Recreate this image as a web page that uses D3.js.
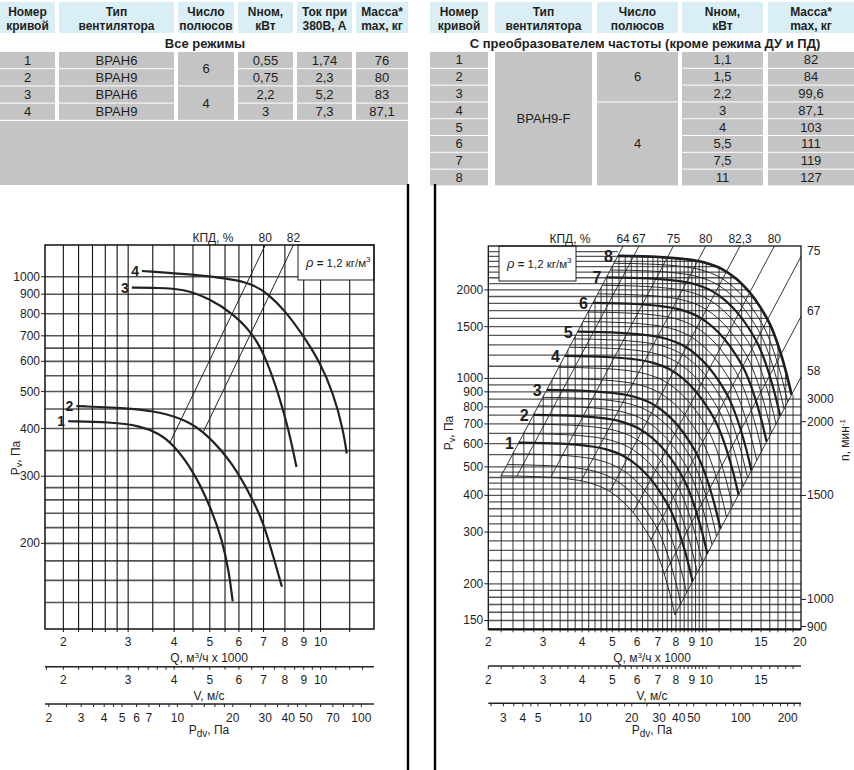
<!DOCTYPE html>
<html>
<head>
<meta charset="utf-8">
<script src="https://cdn.jsdelivr.net/npm/d3@7"></script>
<style>
  body { margin: 0; background: #fff; }
  svg { display: block; }
  text { font-family: "Liberation Sans", Arial, sans-serif; fill: #1e1e1e; }
  .th { font-family: "Liberation Sans Narrow", "Arial Narrow", "Liberation Sans", Arial, sans-serif; font-weight: bold; font-size: 12px; }
  .td { font-size: 13px; }
  .ttl { font-weight: bold; font-size: 13px; }
  .tick { font-size: 12px; }
  .lbl { font-size: 12px; }
</style>
</head>
<body>
<svg id="chart" width="854" height="770"></svg>
<script>
// ---------- table data ----------
const leftHead    = [["Номер", "кривой"], ["Тип", "вентилятора"], ["Число", "полюсов"], ["Nном,", "кВт"], ["Ток при", "380В, А"], ["Масса*", "max, кг"]];
const leftTitle   = "Все режимы";
const leftNo      = ["1", "2", "3", "4"];
const leftFan     = ["ВРАН6", "ВРАН9", "ВРАН6", "ВРАН9"];
const leftPoles   = [{ v: "6", from: 0, to: 1 }, { v: "4", from: 2, to: 3 }];
const leftPower   = ["0,55", "0,75", "2,2", "3"];
const leftCurrent = ["1,74", "2,3", "5,2", "7,3"];
const leftMass    = ["76", "80", "83", "87,1"];

const rightHead  = [["Номер", "кривой"], ["Тип", "вентилятора"], ["Число", "полюсов"], ["Nном,", "кВт"], ["Масса*", "max, кг"]];
const rightTitle = "С преобразователем частоты (кроме режима ДУ и ПД)";
const rightNo    = ["1", "2", "3", "4", "5", "6", "7", "8"];
const rightFan   = [{ v: "ВРАН9-F", from: 0, to: 7 }];
const rightPoles = [{ v: "6", from: 0, to: 2 }, { v: "4", from: 3, to: 7 }];
const rightPower = ["1,1", "1,5", "2,2", "3", "4", "5,5", "7,5", "11"];
const rightMass  = ["82", "84", "99,6", "87,1", "103", "111", "119", "127"];

// ---------- left chart data (Q in 1000 m3/h, P in Pa) ----------
const curve1Q = [2.06, 2.68, 3.23, 3.64, 3.97, 4.51, 5.0, 5.41, 5.64, 5.77];
const curve1P = [418, 416, 407, 388, 364, 310, 252, 204, 168, 141];
const curve2Q = [2.17, 3.1, 3.64, 4.34, 4.89, 5.79, 6.56, 7.0, 7.45, 7.85];
const curve2P = [458, 452, 442, 420, 388, 324, 259, 226, 184, 154];
const curve3Q = [3.07, 3.6, 4.24, 5.0, 5.78, 6.6, 7.14, 7.68, 8.2, 8.6];
const curve3P = [936, 935, 930, 875, 801, 703, 604, 494, 396, 317];
const curve4Q = [3.27, 4.7, 6.43, 7.2, 8.0, 8.89, 9.98, 10.83, 11.53, 11.78];
const curve4P = [1035, 1010, 972, 901, 815, 710, 596, 495, 396, 344];
const leftCurves = [[curve1Q, curve1P], [curve2Q, curve2P], [curve3Q, curve3P], [curve4Q, curve4P]];
const leftCurveNames = ["1", "2", "3", "4"];

const leftEffLabel = ["80", "82"];
const leftEffC     = [24.2, 17.0];   // P / Q^2 of the efficiency lines
const leftEffFrom  = [0, 1];         // curve where the line starts

const leftYTicks   = [200, 300, 400, 500, 600, 700, 800, 900, 1000];
const leftHGrid    = [140, 160, 180, 200, 220, 240, 260, 280, 300, 350, 400, 450, 500, 550, 600, 650, 700, 800, 900, 1000];
const leftVGrid    = [2, 2.2, 2.4, 2.6, 2.8, 3, 3.5, 4, 4.5, 5, 5.5, 6, 6.5, 7, 8, 9, 10, 12];
const leftQTicks   = [2, 3, 4, 5, 6, 7, 8, 9, 10];
const leftVTicks   = [2, 3, 4, 5, 6, 7, 8, 9, 10];
const leftPdvTicks = [2, 3, 4, 5, 6, 7, 10, 20, 30, 40, 50, 70, 100];
const leftVMinor   = [1.8, 2, 2.2, 2.4, 2.6, 2.8, 3, 3.2, 3.4, 3.6, 3.8, 4, 4.5, 5, 5.5, 6, 6.5, 7, 7.5, 8, 8.5, 9, 9.5, 10, 11, 12, 13];
const leftPdvMinor = [2, 2.5, 3, 3.5, 4, 4.5, 5, 6, 7, 8, 9, 10, 12, 14, 16, 18, 20, 25, 30, 35, 40, 45, 50, 60, 70, 80, 90, 100];

// ---------- right chart data ----------
// lowest speed characteristic; all other curves follow it by the fan laws
const baseQ = [2.2, 3.0, 3.6, 4.2, 4.8, 5.3, 5.8, 6.3, 6.8, 7.3, 7.65, 7.94];
const baseP = [466, 462, 455, 442, 418, 388, 352, 312, 270, 220, 185, 157];
const boldSpeed = [1.139, 1.27, 1.40, 1.60, 1.759, 1.969, 2.177, 2.367];
const thinSpeed = [1.0, 1.045, 1.09, 1.18, 1.225, 1.315, 1.36, 1.465, 1.53, 1.655, 1.71, 1.83, 1.9, 2.04, 2.11, 2.24, 2.3];
const rightCurveNames = ["1", "2", "3", "4", "5", "6", "7", "8"];

const rightEffLabel = ["64", "67", "75", "80", "82,3", "80", "75", "67", "58"];
const rightEffC     = [96.3, 76.1, 45.8, 28.4, 17.1, 10.3, 6.4, 4.0, 2.49];

const rightYTicks   = [150, 200, 300, 400, 500, 600, 700, 800, 900, 1000, 1500, 2000];
const rightQTicks   = [2, 3, 4, 5, 6, 7, 8, 9, 10, 15, 20];
const rightVTicks   = [2, 3, 4, 5, 6, 7, 8, 9, 10, 15];
const rightPdvTicks = [3, 4, 5, 10, 20, 30, 40, 50, 100, 200];
const rightPdvMinor = [2.5, 3, 3.5, 4, 4.5, 5, 6, 7, 8, 9, 10, 12, 14, 16, 18, 20, 25, 30, 35, 40, 45, 50, 60, 70, 80, 90, 100, 120, 140, 160, 180, 200, 220, 240];
const rpmTicks      = [3000, 2000, 1500, 1000, 900];

const pdvFactor = 0.6; // rho / 2

const svg = d3.select("#chart");
const defs = svg.append("defs");
const headFill = "#d9eef5", cellFill = "#c4c4c4";

// ---------- tables ----------
function drawTable(cols, head, columns, rowTop, rowH, title, titleX) {
  const g = svg.append("g");
  cols.forEach((c, i) => {
    g.append("rect").attr("x", c[0]).attr("y", 2).attr("width", c[1] - c[0]).attr("height", 31).attr("fill", headFill);
    const t = g.append("text").attr("class", "th").attr("text-anchor", "middle");
    head[i].forEach((s, j) => t.append("tspan").attr("x", (c[0] + c[1]) / 2).attr("y", 15.5 + j * 14).text(s));
    columns[i].forEach((d, r) => {
      const m = typeof d === "object" ? d : { v: d, from: r, to: r };
      const y0 = rowTop(m.from), y1 = rowTop(m.to) + rowH;
      g.append("rect").attr("x", c[0]).attr("y", y0).attr("width", c[1] - c[0]).attr("height", y1 - y0).attr("fill", cellFill);
      g.append("text").attr("class", "td").attr("text-anchor", "middle")
        .attr("x", (c[0] + c[1]) / 2).attr("y", (y0 + y1) / 2 + 4.5).text(m.v);
    });
  });
  g.append("text").attr("class", "ttl").attr("text-anchor", "middle").attr("x", titleX).attr("y", 47.5).text(title);
  return g;
}

const lt = drawTable(
  [[0, 55], [59, 174], [178, 234], [238, 293], [297, 352], [356, 408]],
  leftHead, [leftNo, leftFan, leftPoles, leftPower, leftCurrent, leftMass],
  r => 52 + r * 17.2, 16.2, leftTitle, 205);
lt.append("rect").attr("x", 0).attr("y", 121).attr("width", 408).attr("height", 64).attr("fill", cellFill);

drawTable(
  [[430, 488], [495, 592], [597, 678], [682, 763], [768, 854]],
  rightHead, [rightNo, rightFan, rightPoles, rightPower, rightMass],
  r => 52 + r * 16.8, 15.8, rightTitle, 645);

// separators
[408, 435].forEach(x => svg.append("line").attr("x1", x).attr("x2", x).attr("y1", 184).attr("y2", 770)
  .attr("stroke", "#000").attr("stroke-width", 2.4));

// ---------- helpers ----------
function interpLL(Qs, Ps, q) {
  const lq = Math.log(q);
  for (let i = 0; i < Qs.length - 1; i++) {
    const a = Math.log(Qs[i]), b = Math.log(Qs[i + 1]);
    if (lq >= a && lq <= b) {
      const t = (lq - a) / (b - a);
      return Math.exp(Math.log(Ps[i]) + (Math.log(Ps[i + 1]) - Math.log(Ps[i])) * t);
    }
  }
  return NaN;
}
function crossQ(Qs, Ps, c) {
  let lo = Qs[0], hi = Qs[Qs.length - 1];
  const f = q => Math.log(interpLL(Qs, Ps, q)) - Math.log(c * q * q);
  if (f(lo) <= 0) return lo;
  for (let i = 0; i < 60; i++) { const m = Math.sqrt(lo * hi); if (f(m) > 0) lo = m; else hi = m; }
  return lo;
}
function hline(g, x0, x1, y, stroke, w) {
  g.append("line").attr("x1", x0).attr("x2", x1).attr("y1", y).attr("y2", y).attr("stroke", stroke).attr("stroke-width", w);
}
function vline(g, x, y0, y1, stroke, w) {
  g.append("line").attr("x1", x).attr("x2", x).attr("y1", y0).attr("y2", y1).attr("stroke", stroke).attr("stroke-width", w);
}
function legendBox(g, x, y, w, h) {
  g.append("rect").attr("x", x).attr("y", y).attr("width", w).attr("height", h).attr("fill", "#fff").attr("stroke", "#222").attr("stroke-width", 1);
  const t = g.append("text").attr("x", x + 8).attr("y", y + 22).attr("font-size", 11.5);
  t.append("tspan").attr("font-style", "italic").attr("font-size", 13).text("ρ");
  t.append("tspan").attr("font-weight", "bold").text(" = ");
  t.append("tspan").text("1,2 кг/м");
  t.append("tspan").attr("font-size", 8).attr("dy", -5).text("3");
}
function bottomAxes(g, xQ, x0, x1, o) {
  // Q tick labels
  o.qTicks.forEach(v => g.append("text").attr("class", "tick").attr("text-anchor", "middle").attr("x", xQ(v)).attr("y", 646).text(v));
  const qt = g.append("text").attr("class", "lbl").attr("text-anchor", "middle").attr("x", o.cx).attr("y", 662);
  qt.append("tspan").text("Q, м");
  qt.append("tspan").attr("font-size", 8).attr("dy", -4).text("3");
  qt.append("tspan").attr("dy", 4).text("/ч x 1000");
  // V axis
  hline(g, x0, x1, o.vY, "#222", 1.6);
  o.vMinor.forEach(v => vline(g, xQ(v), o.vY, o.vY + 3, "#222", 1));
  o.vTicks.forEach(v => g.append("text").attr("class", "tick").attr("text-anchor", "middle").attr("x", xQ(v)).attr("y", 684).text(v));
  g.append("text").attr("class", "lbl").attr("text-anchor", "middle").attr("x", o.cx).attr("y", 699.5).text("V, м/с");
  // Pdv axis
  const xP = p => xQ(Math.sqrt(p / pdvFactor));
  hline(g, x0, x1, o.pY, "#222", 1.6);
  o.pMinor.forEach(v => vline(g, xP(v), o.pY, o.pY + 3, "#222", 1));
  o.pTicks.forEach(v => g.append("text").attr("class", "tick").attr("text-anchor", "middle").attr("x", xP(v)).attr("y", 721.5).text(v));
  const pt = g.append("text").attr("class", "lbl").attr("text-anchor", "middle").attr("x", o.cx).attr("y", 734);
  pt.append("tspan").text("P");
  pt.append("tspan").attr("font-size", 10).attr("dy", 3).text("dv");
  pt.append("tspan").attr("dy", -3).text(", Па");
}
function pvLabel(g, x, y) {
  const t = g.append("text").attr("class", "lbl").attr("text-anchor", "middle").attr("transform", `translate(${x},${y}) rotate(-90)`);
  t.append("tspan").text("P");
  t.append("tspan").attr("font-size", 9).attr("dy", 2).text("v");
  t.append("tspan").attr("dy", -2).text(", Па");
}

// ---------- left chart ----------
{
  const x0 = 45, x1 = 374, y0 = 245, y1 = 629;
  const x = d3.scaleLog().domain([1.783, 13.97]).range([x0, x1]);
  const y = d3.scaleLog().domain([119.3, 1211]).range([y1, y0]);
  const g = svg.append("g");
  const line = d3.line().x(d => x(d[0])).y(d => y(d[1])).curve(d3.curveBasis);

  leftHGrid.forEach(v => hline(g, x0, x1, y(v), "#555", 1.6));
  leftVGrid.forEach(v => vline(g, x(v), y0, y1, "#111", 1.1));
  leftVGrid.forEach(v => vline(g, x(v), y1, y1 + 3, "#111", 1));

  legendBox(g, 298, y0, 76, 35);

  leftCurves.forEach(([Qs, Ps], i) => {
    g.append("path").attr("d", line(Qs.map((q, j) => [q, Ps[j]])))
      .attr("fill", "none").attr("stroke", "#222").attr("stroke-width", 2.2);
    g.append("text").attr("text-anchor", "end").attr("font-weight", "bold").attr("font-size", 14)
      .attr("x", x(Qs[0]) - 3).attr("y", y(Ps[0]) + 5).text(leftCurveNames[i]);
  });

  const pTop = y.domain()[1];
  leftEffC.forEach((c, i) => {
    const [Qs, Ps] = leftCurves[leftEffFrom[i]];
    const qa = crossQ(Qs, Ps, c), qb = Math.sqrt(pTop / c);
    g.append("line").attr("x1", x(qa)).attr("y1", y(c * qa * qa)).attr("x2", x(qb)).attr("y2", y(pTop))
      .attr("stroke", "#222").attr("stroke-width", 1);
    g.append("text").attr("class", "tick").attr("text-anchor", "middle").attr("x", x(qb)).attr("y", 242).text(leftEffLabel[i]);
  });
  g.append("text").attr("class", "tick").attr("text-anchor", "middle").attr("x", 213).attr("y", 242).text("КПД, %");

  g.append("rect").attr("x", x0).attr("y", y0).attr("width", x1 - x0).attr("height", y1 - y0)
    .attr("fill", "none").attr("stroke", "#111").attr("stroke-width", 1.5);

  leftYTicks.forEach(v => {
    hline(g, x0 - 4, x0, y(v), "#222", 1);
    g.append("text").attr("class", "tick").attr("text-anchor", "end").attr("x", x0 - 5).attr("y", y(v) + 4).text(v);
  });
  pvLabel(g, 20, 458);
  bottomAxes(g, x, x0, x1, { qTicks: leftQTicks, vTicks: leftVTicks, vMinor: leftVMinor, pTicks: leftPdvTicks,
    pMinor: leftPdvMinor, vY: 666.7, pY: 704, cx: 209 });
}

// ---------- right chart ----------
{
  const x0 = 488.3, x1 = 801, y0 = 246, y1 = 629.3;
  const x = d3.scaleLog().domain([2, 20.15]).range([x0, x1]);
  const y = d3.scaleLog().domain([140, 2822]).range([y1, y0]);
  const g = svg.append("g");
  const line = d3.line().x(d => x(d[0])).y(d => y(d[1])).curve(d3.curveMonotoneX);
  const scaled = k => baseQ.map((q, j) => [q * k, baseP[j] * k * k]);

  // envelope (top speed curve) for the grid clipping
  const top = scaled(boldSpeed[boldSpeed.length - 1]);
  const tStart = top[0], tEnd = top[top.length - 1];
  const topPath = line(top).replace(/^M/, "L");
  const cLeft = rightEffC[0];
  defs.append("clipPath").attr("id", "hClip").append("path")
    .attr("d", `M${x0},${y0}L${x(tStart[0])},${y0}` + topPath + `L${x1},${y(tEnd[1])}L${x1},${y1}L${x0},${y1}Z`);
  defs.append("clipPath").attr("id", "vClip").append("path")
    .attr("d", `M${x(baseQ[0]) - 1},${y1}L${x(baseQ[0]) - 1},${y(cLeft * baseQ[0] * baseQ[0])}` + topPath +
      `L${x1},${y(tEnd[1])}L${x1},${y1}Z`);

  const hGrid = [].concat(d3.range(15, 20).map(i => i * 10), d3.range(10, 25).map(i => i * 20),
    d3.range(10, 20).map(i => i * 50), d3.range(10, 28).map(i => i * 100));
  const vGrid = [].concat(d3.range(11, 26).map(i => i / 5), d3.range(21, 41).map(i => i / 4), d3.range(11, 20));

  const gh = g.append("g").attr("clip-path", "url(#hClip)");
  hGrid.forEach(v => hline(gh, x0, x1, y(v), "#555", 1.3));
  const gv = g.append("g").attr("clip-path", "url(#vClip)");
  vGrid.forEach(v => vline(gv, x(v), y0, y1, "#1e1e1e", 0.9));
  vGrid.forEach(v => vline(g, x(v), y1, y1 + 3, "#222", 0.9));

  legendBox(g, 499, y0, 77, 35);

  thinSpeed.forEach(k => g.append("path").attr("d", line(scaled(k)))
    .attr("fill", "none").attr("stroke", "#222").attr("stroke-width", 0.95));
  boldSpeed.forEach((k, i) => {
    const pts = scaled(k);
    g.append("path").attr("d", line(pts)).attr("fill", "none").attr("stroke", "#1e1e1e")
      .attr("stroke-width", i === boldSpeed.length - 1 ? 2.7 : 2.2);
    g.append("text").attr("text-anchor", "end").attr("font-weight", "bold").attr("font-size", 16)
      .attr("x", x(pts[0][0]) - 5).attr("y", y(pts[0][1]) + 6).text(rightCurveNames[i]);
  });

  const pTop = y.domain()[1], qMax = x.domain()[1];
  rightEffC.forEach((c, i) => {
    const qa = crossQ(baseQ, baseP, c);
    let qb = Math.sqrt(pTop / c), pb = pTop;
    if (qb > qMax) { qb = qMax; pb = c * qMax * qMax; }
    g.append("line").attr("x1", x(qa)).attr("y1", y(c * qa * qa)).attr("x2", x(qb)).attr("y2", y(pb))
      .attr("stroke", "#222").attr("stroke-width", 0.9);
    const t = g.append("text").attr("class", "tick");
    if (pb === pTop) t.attr("text-anchor", "middle").attr("x", x(qb)).attr("y", 242.5);
    else t.attr("text-anchor", "start").attr("x", x1 + 6).attr("y", y(pb) - 2);
    t.text(rightEffLabel[i]);
  });
  g.append("text").attr("class", "tick").attr("text-anchor", "middle").attr("x", 570).attr("y", 242.5).text("КПД, %");

  g.append("rect").attr("x", x0).attr("y", y0).attr("width", x1 - x0).attr("height", y1 - y0)
    .attr("fill", "none").attr("stroke", "#111").attr("stroke-width", 1.3);
  hline(g, x0, x1, y1, "#111", 2.2);

  rightYTicks.forEach(v => {
    hline(g, x0 - 4, x0, y(v), "#222", 1);
    g.append("text").attr("class", "tick").attr("text-anchor", "end").attr("x", x0 - 5).attr("y", y(v) + 4).text(v);
  });

  // speed scale on the right
  const yn = d3.scaleLog().domain([900, 2000, 3000]).range([626.5, 421.7, 399]);
  rpmTicks.forEach(n => {
    if (n !== 3000) hline(g, x1, x1 + 5, yn(n), "#222", 1);
    g.append("text").attr("class", "tick").attr("x", x1 + 6).attr("y", yn(n) + 4).text(n);
  });
  const nt = g.append("text").attr("class", "lbl").attr("text-anchor", "middle").attr("transform", "translate(849,440) rotate(-90)");
  nt.append("tspan").text("n, мин");
  nt.append("tspan").attr("font-size", 8).attr("dy", -4).text("-1");

  pvLabel(g, 453, 433);
  bottomAxes(g, x, x0, x1, { qTicks: rightQTicks, vTicks: rightVTicks, vMinor: [2].concat(vGrid), pTicks: rightPdvTicks,
    pMinor: rightPdvMinor, vY: 666, pY: 703.3, cx: 652 });
}
</script>
</body>
</html>
